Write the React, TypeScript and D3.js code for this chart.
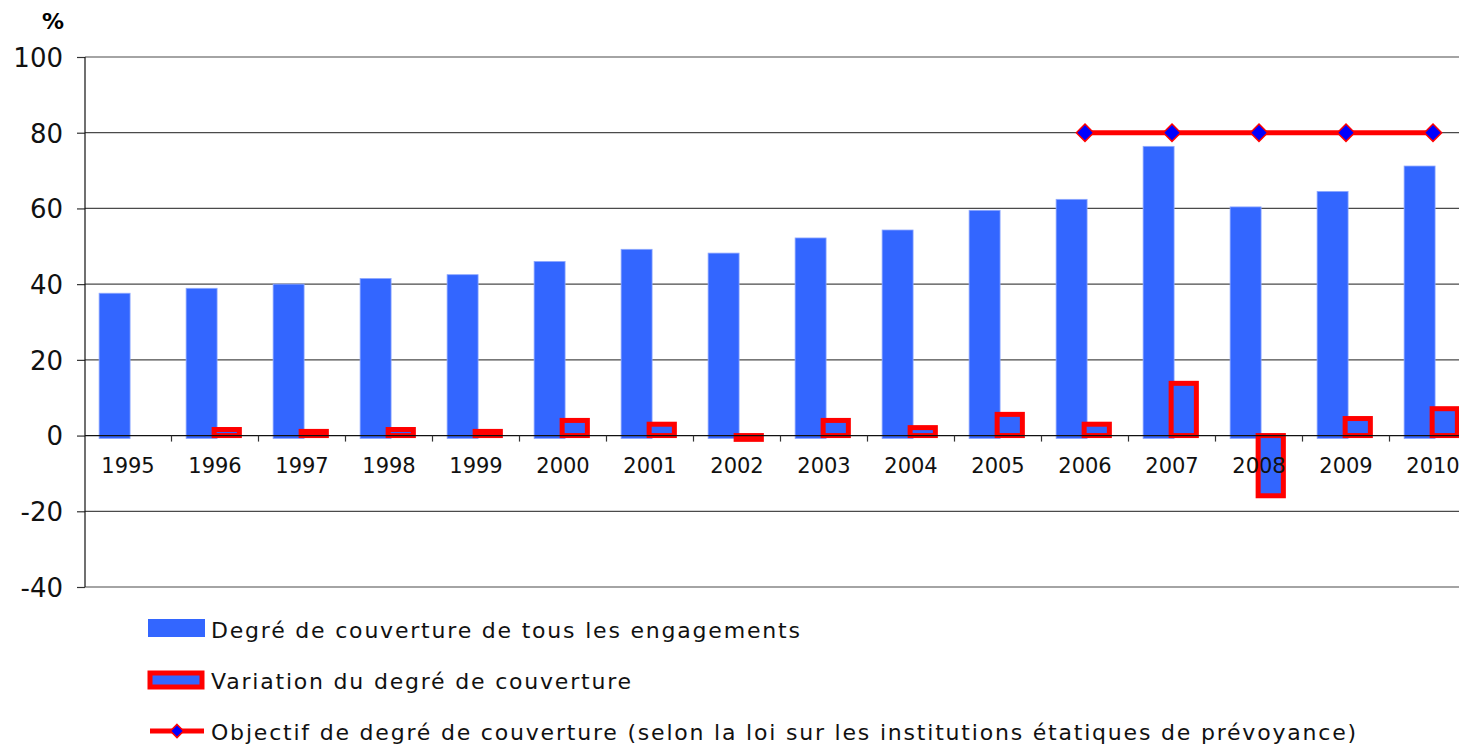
import React, { useRef, useEffect } from 'react';
import * as d3 from 'd3';

const years = ['1995', '1996', '1997', '1998', '1999', '2000', '2001', '2002', '2003', '2004', '2005', '2006', '2007', '2008', '2009', '2010'];
const coverage = [37.6, 38.9, 40.0, 41.5, 42.5, 46.0, 49.2, 48.2, 52.2, 54.3, 59.5, 62.4, 76.4, 60.4, 64.5, 71.2];
const variation = [null, 1.6, 1.1, 1.6, 1.1, 4.0, 3.0, -1.0, 4.0, 2.1, 5.6, 3.0, 13.8, -15.9, 4.5, 7.1];
const targetYears = ['2006', '2007', '2008', '2009', '2010'];
const targetValues = [80, 80, 80, 80, 80];
const yTicks = [-40, -20, 0, 20, 40, 60, 80, 100];

const BLUE = '#3366ff';
const RED = '#ff0000';
const FONT = '"DejaVu Sans", Verdana, sans-serif';

const App = () => {
  const svgRef = useRef(null);
  useEffect(() => {
    d3.select(svgRef.current).selectAll('*').remove();
    const svg = d3.select(svgRef.current);
    const left = 85;
    const right = 1459;

    const x = d3.scaleBand().domain(years).range([84.5, 84.5 + 16 * 87]).padding(0);
    const y = d3.scaleLinear().domain([-40, 100]).range([587, 57]);
    const bw = x.bandwidth();

    // gridlines
    svg
      .append('g')
      .selectAll('line')
      .data(yTicks.filter((d) => d !== 0))
      .join('line')
      .attr('x1', left)
      .attr('x2', right)
      .attr('y1', (d) => y(d))
      .attr('y2', (d) => y(d))
      .attr('stroke', '#4a4a4a')
      .attr('stroke-width', 1.2);

    // y axis
    const y_axis = d3.axisLeft(y).tickValues(yTicks).tickSize(8).tickPadding(14).tickFormat((d) => d);
    const gy = svg.append('g').attr('transform', `translate(${left},0)`).call(y_axis);
    gy.select('.domain').remove();
    gy.selectAll('.tick line').attr('stroke', '#333').attr('stroke-width', 1.2);
    gy.selectAll('.tick text')
      .style('font-family', FONT)
      .style('font-size', '26px')
      .attr('fill', '#111')
      .attr('dy', '0.36em');

    svg.append('line').attr('x1', left).attr('x2', left).attr('y1', y(100)).attr('y2', y(-40)).attr('stroke', '#111').attr('stroke-width', 1.2);

    svg
      .append('text')
      .attr('x', 53)
      .attr('y', 29)
      .attr('text-anchor', 'middle')
      .style('font-family', FONT)
      .style('font-size', '22px')
      .style('font-weight', 'bold')
      .text('%');

    // coverage bars
    svg
      .append('g')
      .selectAll('rect')
      .data(coverage)
      .join('rect')
      .attr('x', (d, i) => x(years[i]) + bw * 0.168)
      .attr('width', bw * 0.356)
      .attr('y', (d) => y(d))
      .attr('height', (d) => y(0) - y(d) + 3)
      .attr('fill', BLUE)
      .attr('stroke', '#8fa8ff')
      .attr('stroke-width', 0.8);

    // variation bars
    svg
      .append('g')
      .selectAll('rect')
      .data(variation.map((v, i) => ({ v, year: years[i] })).filter((d) => d.v !== null))
      .join('rect')
      .attr('x', (d) => x(d.year) + bw * 0.49)
      .attr('width', bw * 0.29)
      .attr('y', (d) => y(Math.max(0, d.v)))
      .attr('height', (d) => Math.abs(y(d.v) - y(0)))
      .attr('fill', BLUE)
      .attr('stroke', RED)
      .attr('stroke-width', 5);

    // x axis
    svg.append('line').attr('x1', left).attr('x2', right).attr('y1', y(0)).attr('y2', y(0)).attr('stroke', '#111').attr('stroke-width', 1.3);
    svg
      .append('g')
      .selectAll('line')
      .data(years.slice(1))
      .join('line')
      .attr('x1', (d) => x(d))
      .attr('x2', (d) => x(d))
      .attr('y1', y(0))
      .attr('y2', y(0) + 6)
      .attr('stroke', '#333')
      .attr('stroke-width', 1.2);
    svg
      .append('g')
      .selectAll('text')
      .data(years)
      .join('text')
      .attr('x', (d) => x(d) + bw / 2)
      .attr('y', 473)
      .attr('text-anchor', 'middle')
      .style('font-family', FONT)
      .style('font-size', '21px')
      .attr('fill', '#111')
      .text((d) => d);

    // objective line
    const line = d3
      .line()
      .x((d) => x(d[0]) + bw / 2)
      .y((d) => y(d[1]));
    const pts = targetYears.map((yr, i) => [yr, targetValues[i]]);
    svg.append('path').datum(pts).attr('d', line).attr('fill', 'none').attr('stroke', RED).attr('stroke-width', 5);
    const diamond = d3.symbol().type(d3.symbolDiamond2).size(190);
    svg
      .append('g')
      .selectAll('path')
      .data(pts)
      .join('path')
      .attr('d', diamond)
      .attr('transform', (d) => `translate(${x(d[0]) + bw / 2},${y(d[1])})`)
      .attr('fill', '#0000ff')
      .attr('stroke', RED)
      .attr('stroke-width', 1.5);

    // legend
    const lg = svg
      .append('g')
      .style('font-family', FONT)
      .style('font-size', '22px')
      .style('letter-spacing', '1.8px')
      .attr('fill', '#111');
    lg.append('rect').attr('x', 148).attr('y', 619).attr('width', 57).attr('height', 18).attr('fill', BLUE);
    lg.append('text').attr('x', 211).attr('y', 638).text('Degré de couverture de tous les engagements');
    lg.append('rect').attr('x', 150).attr('y', 673).attr('width', 52).attr('height', 14).attr('fill', BLUE).attr('stroke', RED).attr('stroke-width', 5);
    lg.append('text').attr('x', 211).attr('y', 689).text('Variation du degré de couverture');
    lg.append('line').attr('x1', 150).attr('x2', 204).attr('y1', 731).attr('y2', 731).attr('stroke', RED).attr('stroke-width', 5);
    lg.append('path').attr('d', d3.symbol().type(d3.symbolDiamond2).size(110)).attr('transform', 'translate(177,731)').attr('fill', '#0000ff').attr('stroke', RED).attr('stroke-width', 1.5);
    lg.append('text').attr('x', 211).attr('y', 740).text('Objectif de degré de couverture (selon la loi sur les institutions étatiques de prévoyance)');
  }, []);

  return <svg ref={svgRef} width={1459} height={747} style={{ position: 'absolute', left: 0, top: 0, background: '#fff' }}></svg>;
};

export default App;
